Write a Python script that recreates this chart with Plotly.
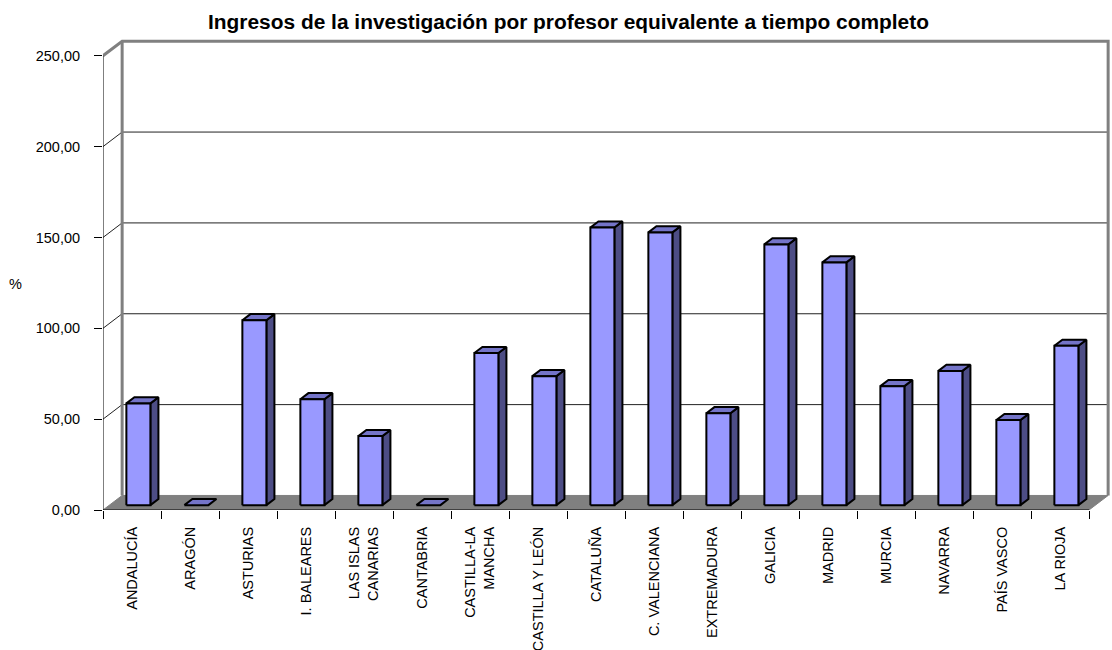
import plotly.graph_objects as go

categories = ["ANDALUCÍA", "ARAGÓN", "ASTURIAS", "I. BALEARES", "LAS ISLAS<br>CANARIAS",
              "CANTABRIA", "CASTILLA-LA<br>MANCHA", "CASTILLA Y LEÓN", "CATALUÑA",
              "C. VALENCIANA", "EXTREMADURA", "GALICIA", "MADRID", "MURCIA", "NAVARRA",
              "PAÍS VASCO", "LA RIOJA"]
values = [56.0, 0.0, 101.8, 58.3, 38.0, 0.0, 83.7, 71.0, 152.8, 150.1, 50.6, 143.5,
          133.6, 65.5, 73.9, 46.8, 87.7]
y_ticks = [0, 50, 100, 150, 200, 250]
y_ticktext = ["0,00", "50,00", "100,00", "150,00", "200,00", "250,00"]
title = "Ingresos de la investigación por profesor equivalente a tiempo completo"

# 3D projection style constants (depth offsets in data units)
DX = 0.33
DY = 8.0
F0 = 1 / 3      # depth fraction of bar front face
FD = 0.42       # bar depth fraction
HW = 0.207      # half width of bar
N = len(categories)
YMAX = y_ticks[-1]

FONT = "Arial, Liberation Sans, sans-serif"
WALL = "#808080"

fig = go.Figure()

def poly(xs, ys, fill, line_color, lw):
    fig.add_trace(go.Scatter(x=xs, y=ys, mode="lines", fill="toself", fillcolor=fill,
                             line=dict(color=line_color, width=lw), hoverinfo="skip",
                             showlegend=False, cliponaxis=False))

def line(xs, ys, color, width):
    fig.add_trace(go.Scatter(x=xs, y=ys, mode="lines", line=dict(color=color, width=width),
                             hoverinfo="skip", showlegend=False, cliponaxis=False))

# back wall (white)
poly([DX, N + DX, N + DX, DX, DX], [DY, DY, YMAX + DY, YMAX + DY, DY], "white", "rgba(0,0,0,0)", 0)

# back wall gridlines and side-wall diagonals
gx, gy = [], []
for t in y_ticks[1:-1]:
    gx += [0, DX, N + DX, None]
    gy += [t, t + DY, t + DY, None]
line(gx, gy, "#222222", 1)

# floor
poly([0, N, N + DX, DX, 0], [0, 0, DY, DY, 0], "#808080", "#808080", 1)

# wall borders
line([0, DX, N + DX, N + DX], [YMAX, YMAX + DY, YMAX + DY, DY], WALL, 3)
line([DX, DX], [DY, YMAX + DY], WALL, 3)

# bars
fx, fy, sx, sy, tx, ty = [], [], [], [], [], []
ddx, ddy = DX * FD, DY * FD
for i, v in enumerate(values):
    cx = i + 0.5 + DX * F0
    y0 = DY * F0
    top = y0 + v
    l, r = cx - HW, cx + HW
    if v > 0:
        fx += [l, r, r, l, l, None]
        fy += [y0, y0, top, top, y0, None]
        sx += [r, r + ddx, r + ddx, r, r, None]
        sy += [y0, y0 + ddy, top + ddy, top, y0, None]
    tx += [l, r, r + ddx, l + ddx, l, None]
    ty += [top, top, top + ddy, top + ddy, top, None]

poly(sx, sy, "#4D4D85", "black", 2)
poly(tx, ty, "#7474C8", "black", 2)
poly(fx, fy, "#9999FF", "black", 2)

# front axis lines
line([0, 0], [0, YMAX], "black", 1)
line([0, N], [0, 0], "black", 1)

PXW = 1112 - 103
fig.update_layout(
    width=1112, height=650,
    margin=dict(l=103, r=0, t=38, b=140),
    plot_bgcolor="white", paper_bgcolor="white",
    font=dict(family=FONT, size=14.5, color="black"),
    title=dict(text=title, x=568.5 / 1112, xref="container", xanchor="center",
               y=1 - 22 / 650, yref="container", yanchor="middle",
               font=dict(family=FONT, size=20.9, color="black", weight="bold")),
    xaxis=dict(range=[0, PXW / 58], showgrid=False, zeroline=False, showline=False,
               tickmode="array", tickvals=[i + 0.5 for i in range(N)], ticktext=categories,
               tickangle=-90, ticks="outside", ticklen=0, ticklabelstandoff=10,
               tickfont=dict(family=FONT, size=14.5, color="black"),
               minor=dict(tickmode="array", tickvals=list(range(N + 1)), ticks="outside",
                          ticklen=8, tickcolor="black", tickwidth=1, showgrid=False)),
    yaxis=dict(range=[0, 472 / 1.817], showgrid=False, zeroline=False, showline=False,
               tickmode="array", tickvals=y_ticks, ticktext=y_ticktext,
               ticks="outside", ticklen=8, tickcolor="black", ticklabelstandoff=11,
               tickfont=dict(family=FONT, size=14.5, color="black")),
    annotations=[dict(text="%", x=(15 - 103) / PXW, y=(510 - 284) / 472,
                      xref="paper", yref="paper", showarrow=False,
                      xanchor="center", yanchor="middle",
                      font=dict(family=FONT, size=14.5, color="black"))],
)

fig.write_html("out.html", config={"displayModeBar": False},
               post_script="document.body.style.margin='0';")
